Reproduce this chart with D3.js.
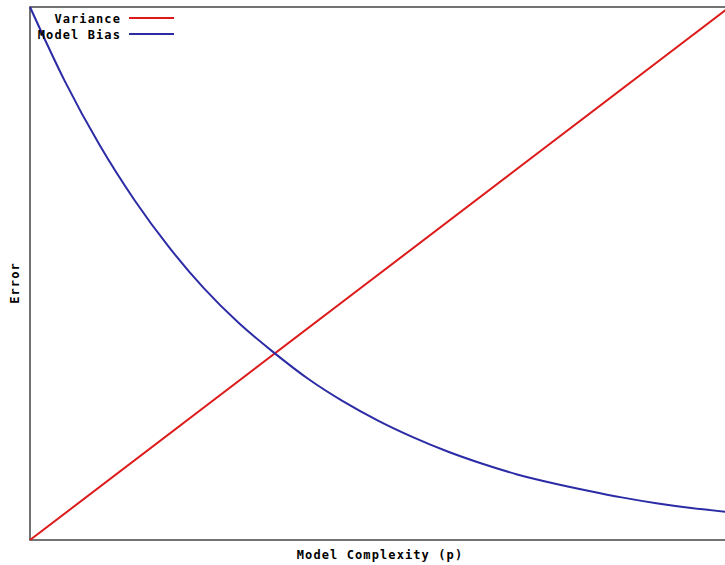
<!DOCTYPE html>
<html><head><meta charset="utf-8">
<script src="https://cdn.jsdelivr.net/npm/d3@7"></script>
<style>body{margin:0;background:#fff}text{font-family:"DejaVu Sans Mono","Liberation Mono",monospace;font-weight:bold;font-size:12px;fill:#000}</style>
</head><body><svg id="c" width="725" height="565"></svg>
<script>
const complexity = [0,0.05,0.1,0.15,0.2,0.25,0.3,0.35,0.4,0.45,0.5,0.55,0.6,0.65,0.7,0.75,0.8,0.85,0.9,0.95,1.0];
const varianceX = [0, 1.0];
const varianceY = [0, 0.995];
const biasY = [1.0,0.861,0.741,0.638,0.549,0.472,0.407,0.352,0.302,0.260,0.224,0.193,0.166,0.143,0.123,0.107,0.093,0.080,0.069,0.060,0.053];
const seriesNames = ["Variance","Model Bias"];
const colors = ["#dd1a1a","#2b2ba6"];
const xLabel = "Model Complexity (p)";
const yLabel = "Error";

const svg = d3.select("#c");
const L=30, T=7, R=726, B=540;
const x = d3.scaleLinear().domain([0,1]).range([L,R]);
const y = d3.scaleLinear().domain([0,1]).range([B,T]);

// frame
svg.append("rect").attr("x",L).attr("y",T).attr("width",R-L).attr("height",B-T)
  .attr("fill","none").attr("stroke","#444").attr("stroke-width",1.5);

const line = d3.line().x(d=>x(d[0])).y(d=>y(d[1]));
svg.append("path").datum(varianceX.map((v,i)=>[v,varianceY[i]]))
  .attr("d",line).attr("fill","none").attr("stroke",colors[0]).attr("stroke-width",2);
svg.append("path").datum(complexity.map((v,i)=>[v,biasY[i]]))
  .attr("d",d3.line().curve(d3.curveMonotoneX).x(d=>x(d[0])).y(d=>y(d[1])))
  .attr("fill","none").attr("stroke",colors[1]).attr("stroke-width",2);

// legend
seriesNames.forEach((n,i)=>{
  const yy = 19 + i*16;
  svg.append("text").attr("x",121).attr("y",yy+4).attr("text-anchor","end")
    .attr("letter-spacing","1.1px").text(n);
  svg.append("line").attr("x1",129).attr("x2",174).attr("y1",yy-1).attr("y2",yy-1)
    .attr("stroke",colors[i]).attr("stroke-width",2);
});

svg.append("text").attr("x",(L+R)/2 +2).attr("y",559).attr("text-anchor","middle")
  .attr("letter-spacing","1.1px").text(xLabel);
svg.append("text").attr("transform","translate(19,283) rotate(-90)").attr("text-anchor","middle")
  .attr("letter-spacing","1.1px").text(yLabel);
</script></body></html>
